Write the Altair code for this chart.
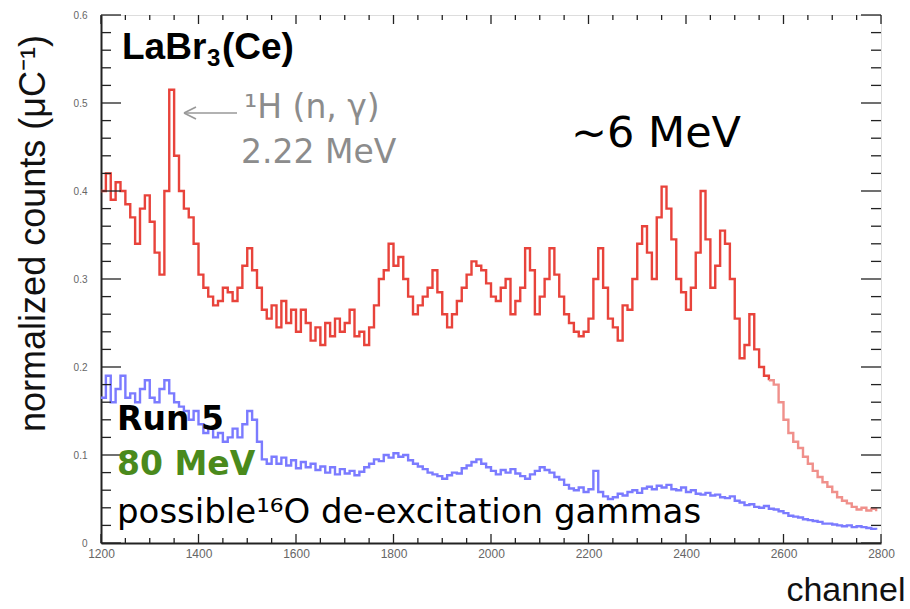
import altair as alt
import pandas as pd

# ---------------- data ----------------
START = 1200
STEP = 10
TAIL_FROM = 2570

red_values = [
    0.400, 0.420, 0.390, 0.410, 0.400, 0.385, 0.370, 0.340, 0.380, 0.395,
    0.365, 0.330, 0.305, 0.400, 0.515, 0.440, 0.400, 0.380, 0.370, 0.340,
    0.305, 0.290, 0.280, 0.270, 0.275, 0.290, 0.285, 0.275, 0.290, 0.315,
    0.335, 0.310, 0.290, 0.265, 0.255, 0.270, 0.245, 0.275, 0.250, 0.265,
    0.240, 0.265, 0.250, 0.230, 0.245, 0.225, 0.250, 0.235, 0.255, 0.240,
    0.250, 0.265, 0.235, 0.240, 0.225, 0.245, 0.270, 0.300, 0.310, 0.340,
    0.315, 0.325, 0.300, 0.280, 0.260, 0.270, 0.280, 0.290, 0.310, 0.285,
    0.260, 0.245, 0.260, 0.275, 0.290, 0.305, 0.320, 0.315, 0.310, 0.295,
    0.280, 0.275, 0.290, 0.300, 0.260, 0.275, 0.290, 0.335, 0.310, 0.260,
    0.280, 0.300, 0.335, 0.305, 0.280, 0.260, 0.250, 0.240, 0.235, 0.240,
    0.255, 0.300, 0.335, 0.290, 0.255, 0.245, 0.230, 0.270, 0.265, 0.300,
    0.340, 0.360, 0.330, 0.300, 0.370, 0.405, 0.380, 0.345, 0.300, 0.285,
    0.265, 0.290, 0.330, 0.400, 0.345, 0.290, 0.315, 0.355, 0.340, 0.300,
    0.255, 0.210, 0.225, 0.260, 0.220, 0.200, 0.190, 0.185, 0.180, 0.160,
    0.140, 0.125, 0.115, 0.108, 0.098, 0.090, 0.082, 0.075, 0.069, 0.064,
    0.058, 0.052, 0.048, 0.045, 0.041, 0.038, 0.040, 0.037, 0.039, 0.036,
]

blue_values = [
    0.165, 0.190, 0.160, 0.175, 0.190, 0.165, 0.170, 0.160, 0.175, 0.185,
    0.165, 0.160, 0.175, 0.185, 0.170, 0.160, 0.155, 0.150, 0.140, 0.150,
    0.135, 0.125, 0.130, 0.120, 0.125, 0.115, 0.120, 0.130, 0.120, 0.135,
    0.150, 0.140, 0.115, 0.095, 0.090, 0.098, 0.090, 0.097, 0.088, 0.094,
    0.085, 0.092, 0.086, 0.090, 0.083, 0.087, 0.080, 0.086, 0.078, 0.084,
    0.079, 0.082, 0.077, 0.081, 0.086, 0.090, 0.095, 0.093, 0.100, 0.097,
    0.102, 0.098, 0.100, 0.094, 0.090, 0.087, 0.084, 0.080, 0.078, 0.076,
    0.073, 0.077, 0.080, 0.079, 0.085, 0.088, 0.092, 0.095, 0.090, 0.086,
    0.082, 0.078, 0.083, 0.080, 0.084, 0.079, 0.076, 0.073, 0.078, 0.082,
    0.086, 0.083, 0.080, 0.075, 0.072, 0.066, 0.062, 0.060, 0.063, 0.058,
    0.061, 0.082, 0.058, 0.053, 0.050, 0.052, 0.056, 0.054, 0.058, 0.060,
    0.057, 0.062, 0.064, 0.061, 0.065, 0.063, 0.066, 0.061, 0.060, 0.063,
    0.058, 0.060, 0.056, 0.055, 0.057, 0.054, 0.055, 0.052, 0.051, 0.053,
    0.048, 0.046, 0.043, 0.044, 0.041, 0.040, 0.042, 0.039, 0.038, 0.036,
    0.034, 0.031, 0.030, 0.029, 0.027, 0.026, 0.025, 0.024, 0.022, 0.022,
    0.021, 0.020, 0.019, 0.020, 0.018, 0.019, 0.018, 0.017, 0.016, 0.015,
]

y_major = [0, 0.1, 0.2, 0.3, 0.4, 0.5, 0.6]
y_minor = [round(i * 0.02, 2) for i in range(31) if i % 5 != 0]
x_major = [1200, 1400, 1600, 1800, 2000, 2200, 2400, 2600, 2800]
x_minor = [c for c in range(1200, 2801, 50) if c % 200 != 0]

x_title = "channel"
y_title = "normalized counts (μC⁻¹)"
detector_main = "LaBr"
detector_sub = "3"
detector_rest = "(Ce)"
h_line1 = "¹H (n, γ)"
h_line2 = "2.22 MeV"
energy_note = "~6 MeV"
run_label = "Run 5"
beam_label = "80 MeV"
gamma_label = "possible¹⁶O de-excitation gammas"

# ---------------- table ----------------
rows = []
for i, v in enumerate(blue_values):
    rows.append({"channel": START + STEP * i, "value": v, "series": "blue"})
for i, v in enumerate(red_values):
    ch = START + STEP * i
    if ch <= TAIL_FROM:
        rows.append({"channel": ch, "value": v, "series": "red"})
    if ch >= TAIL_FROM:
        rows.append({"channel": ch, "value": v, "series": "tail"})
df = pd.DataFrame(rows)

W, H = 780, 528
xs = alt.Scale(domain=[1200, 2800], nice=False, zero=False)
ys = alt.Scale(domain=[0, 0.6], nice=False, zero=True)

x_axis = alt.Axis(
    values=x_major, format="d", ticks=False, tickSize=0, labelPadding=5,
    labelFontSize=12, labelColor="#666", labelFont="Liberation Sans",
    labelFlush=False, labelOverlap=False, grid=False,
    domainColor="#222", domainWidth=2,
    title=x_title, titleFont="Liberation Sans", titleFontSize=34,
    titleFontWeight="normal", titleColor="#111",
    titleX=804, titleY=57, titleAlign="right", titleBaseline="alphabetic")
y_axis = alt.Axis(
    values=y_major, format="~g", ticks=False, tickSize=0, labelPadding=14,
    labelFontSize=10, labelColor="#666", labelFont="Liberation Sans",
    labelFlush=False, labelOverlap=False, grid=False,
    domainColor="#222", domainWidth=2,
    title=y_title, titleFont="Liberation Sans", titleFontSize=36,
    titleFontWeight="normal", titleColor="#111",
    titleX=-68, titleY=218, titleAngle=270, titleAlign="center",
    titleBaseline="middle")

lines = alt.Chart(df).mark_line(interpolate="step-after", strokeWidth=2.4).encode(
    x=alt.X("channel:Q", scale=xs, axis=x_axis),
    y=alt.Y("value:Q", scale=ys, axis=y_axis),
    color=alt.Color("series:N", scale=alt.Scale(
        domain=["blue", "red", "tail"], range=["#7b7bff", "#e8433b", "#f0908b"]),
        legend=None),
)


def tick_layer(vals, channel, a, b):
    base = alt.Chart(pd.DataFrame({"v": vals})).mark_rule(color="#222", strokeWidth=1.3)
    if channel == "y":
        return base.encode(y=alt.Y("v:Q", scale=ys, axis=y_axis),
                           x=alt.value(a), x2=alt.value(b))
    return base.encode(x=alt.X("v:Q", scale=xs, axis=x_axis),
                       y=alt.value(a), y2=alt.value(b))


ticks = [
    tick_layer(y_major, "y", 0, 20), tick_layer(y_minor, "y", 0, 10),
    tick_layer(y_major, "y", W - 20, W), tick_layer(y_minor, "y", W - 10, W),
    tick_layer(x_major, "x", H, H - 9), tick_layer(x_minor, "x", H, H - 5),
    tick_layer(x_major, "x", 0, 9), tick_layer(x_minor, "x", 0, 5),
]


def label(txt, x, y, size, color="#111", weight="normal", font="DejaVu Sans"):
    return alt.Chart(pd.DataFrame({"t": [txt]})).mark_text(
        align="left", baseline="alphabetic", fontSize=size, fontWeight=weight,
        font=font, color=color).encode(text="t:N", x=alt.value(x), y=alt.value(y))


texts = [
    label(detector_main, 21, 44, 37, "#000", "bold", "Liberation Sans"),
    label(detector_sub, 106, 51, 24, "#000", "bold", "Liberation Sans"),
    label(detector_rest, 121, 44, 37, "#000", "bold", "Liberation Sans"),
    label(h_line1, 143, 103, 33, "#8c8c8c"),
    label(h_line2, 140, 148, 33, "#8c8c8c"),
    label(energy_note, 470, 132, 43, "#000"),
    label(run_label, 16, 415, 33, "#000", "bold"),
    label(beam_label, 16, 460, 33, "#4a8a1c", "bold"),
    label(gamma_label, 16, 508, 34, "#000"),
]

arrow_df = pd.DataFrame({"k": ["shaft", "up", "down"]})
arrow = [
    alt.Chart(arrow_df.iloc[[0]]).mark_rule(color="#999", strokeWidth=1.6).encode(
        x=alt.value(83), x2=alt.value(136), y=alt.value(98), y2=alt.value(98)),
    alt.Chart(arrow_df.iloc[[1]]).mark_rule(color="#999", strokeWidth=1.6).encode(
        x=alt.value(83), x2=alt.value(95), y=alt.value(98), y2=alt.value(92)),
    alt.Chart(arrow_df.iloc[[2]]).mark_rule(color="#999", strokeWidth=1.6).encode(
        x=alt.value(83), x2=alt.value(95), y=alt.value(98), y2=alt.value(104)),
]

chart = alt.layer(lines, *ticks, *arrow, *texts).properties(
    width=W, height=H,
    autosize=alt.AutoSizeParams(type="none"),
    padding={"left": 101, "top": 15, "right": 29, "bottom": 66},
).configure_view(stroke="#333", strokeWidth=1.5).configure(background="white")

chart.save("out.html", embed_options={"renderer": "svg", "actions": False})
